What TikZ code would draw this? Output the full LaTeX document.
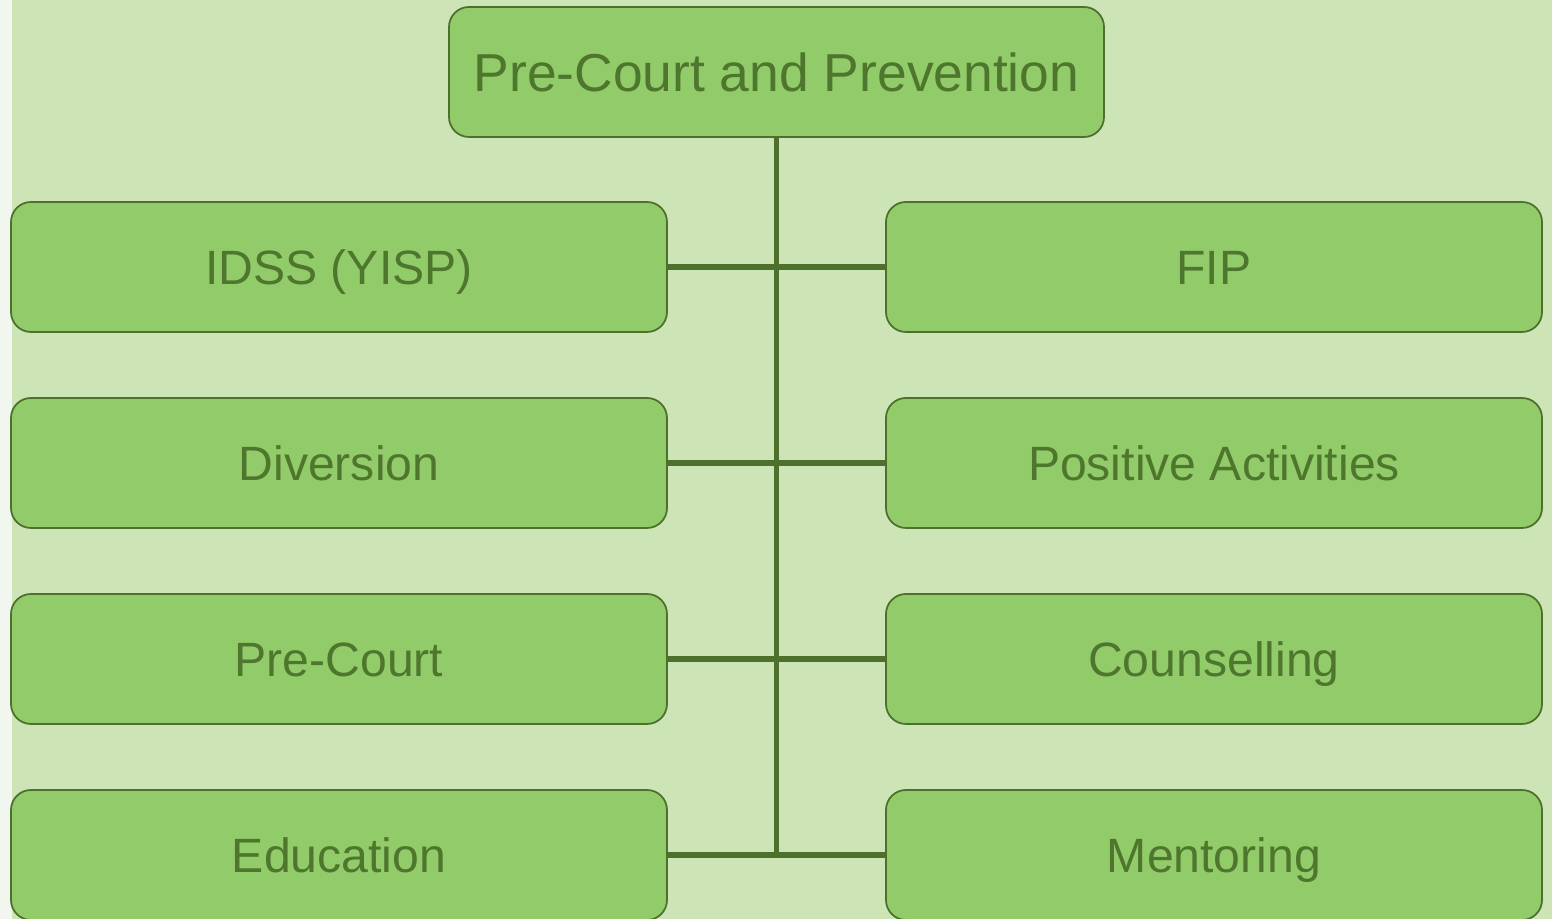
\documentclass[tikz,border=0pt]{standalone}
\usepackage{fontspec}
\setmainfont{Liberation Sans}
\usepackage{tikz}
\usetikzlibrary{positioning}
\usepackage{xcolor}
\definecolor{pcback}{RGB}{205,228,182}
\definecolor{pcstrip}{RGB}{241,247,238}
\definecolor{pcfill}{RGB}{146,204,106}
\definecolor{pcdark}{RGB}{78,112,45}
\definecolor{pctext}{RGB}{78,118,44}
\tikzstyle{unit} = [rectangle, draw=pcdark, line width=0.5pt, fill=pcfill, text=pctext, minimum width=6.56cm, minimum height=1.3cm, rounded corners=0.2cm, font=\fontsize{13.7}{16}\selectfont, text height=9.8pt, text depth=0pt]
\tikzstyle{link} = [line width=1.5pt, color=pcdark]

\begin{document}
\begin{tikzpicture}
    % Page and background
    \clip (0,0) rectangle (15.52,-9.19);
    \fill[pcback] (0,0) rectangle (15.52,-9.19);
    \fill[pcstrip] (0,0) rectangle (0.115,-9.19);

    % Head unit
    \node[unit, minimum width=6.55cm, font=\fontsize{15.2}{18}\selectfont, text height=10.9pt] (head) at (7.765,-0.72) {Pre-Court and Prevention};

    % Left column
    \node[unit] (idss) at (3.39,-2.67) {IDSS (YISP)};
    \node[unit] (diversion) at (3.39,-4.63) {Diversion};
    \node[unit] (precourt) at (3.39,-6.59) {Pre-Court};
    \node[unit] (education) at (3.39,-8.55) {Education};

    % Right column
    \node[unit] (fip) at (12.14,-2.67) {FIP};
    \node[unit] (positive) at (12.14,-4.63) {Positive Activities};
    \node[unit] (counselling) at (12.14,-6.59) {Counselling};
    \node[unit] (mentoring) at (12.14,-8.55) {Mentoring};

    % Connectors
    \coordinate (trunk) at (head.south |- education.east);
    \draw[link] (head.south) -- (trunk);
    \draw[link] (idss.east) -- (fip.west);
    \draw[link] (diversion.east) -- (positive.west);
    \draw[link] (precourt.east) -- (counselling.west);
    \draw[link] (education.east) -- (mentoring.west);
\end{tikzpicture}
\end{document}
